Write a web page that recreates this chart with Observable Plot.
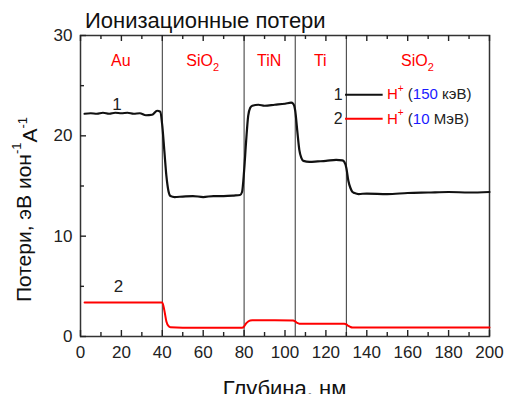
<!DOCTYPE html>
<html><head><meta charset="utf-8">
<script src="https://cdn.jsdelivr.net/npm/d3@7"></script>
<script src="https://cdn.jsdelivr.net/npm/@observablehq/plot@0.6"></script>
<style>
body{margin:0;background:#fff;font-family:"Liberation Sans",Arial,sans-serif;overflow:hidden}
</style>
</head><body><div id="chart"></div>
<script>
// Curve 1: H+ 150 keV
const depth1 = [2,5,8,11,14,17,20,23,26,29,32,35,37.5,39,40,41,42,43,44,46,50,55,60,65,70,75,78,79,80,81,82,83,84,87,90,95,100,103,104,105,106,107,108,109,112,116,120,125,128,129,130,131,132,133,134,136,140,150,160,170,180,190,200];
const loss1  = [22.2,22.25,22.2,22.3,22.2,22.3,22.25,22.3,22.2,22.25,22.05,22.1,22.5,22.4,21.0,18.5,16.0,14.5,14.0,13.9,13.95,14.0,13.9,14.0,14.0,14.05,14.1,14.4,16.5,19.5,22.0,22.8,23.0,23.1,23.0,23.1,23.2,23.3,23.2,22.5,20.5,18.6,17.8,17.5,17.4,17.45,17.5,17.6,17.55,17.4,16.8,15.5,14.8,14.4,14.3,14.2,14.25,14.2,14.3,14.35,14.4,14.35,14.4];
// Curve 2: H+ 10 MeV
const depth2 = [2,20,38,40,41,42,43,44,50,60,70,79,80,81,82,83,84,95,104,105,106,107,108,129,130,131,132,133,134,150,200];
const loss2  = [3.4,3.4,3.4,3.4,2.6,1.5,1.05,0.92,0.88,0.88,0.88,0.88,1.0,1.3,1.5,1.6,1.62,1.62,1.6,1.5,1.35,1.28,1.27,1.27,1.2,1.05,0.95,0.9,0.9,0.9,0.9];

const boundaries = [40, 80, 105, 130];
const layerNames = ["Au", "SiO", "TiN", "Ti", "SiO"];
const layerSubs  = ["", "2", "", "", "2"];
const layerCenters = [20, 60, 92.5, 117.5, 165];
const layerY = 27.5;

const xTicks = [0,20,40,60,80,100,120,140,160,180,200];
const xMinor = [10,30,50,70,90,110,130,150,170,190];
const yTicks = [0,10,20,30];
const yMinor = [5,15,25];

const curveLabels = [{x: 17.9, y: 23.1, t: "1"}, {x: 18.6, y: 5.0, t: "2"}];

const legendNums = ["1", "2"];
const legendY = [24.1, 21.7];
const legendColors = ["#111111", "#ff0000"];
const legendEnergy = ["150", "10"];
const legendUnit = ["кэВ", "МэВ"];

const title = "Ионизационные потери";
const xLabel = "Глубина, нм";

const series1 = depth1.map((d, i) => ({depth: d, loss: loss1[i]}));
const series2 = depth2.map((d, i) => ({depth: d, loss: loss2[i]}));
const legendRows = legendNums.map((n, i) => ({n, y: legendY[i], c: legendColors[i]}));

const ink = "#222";
const W = 505, H = 394, mL = 80, mR = 16, mT = 35, mB = 58;
const fw = W - mL - mR, fh = H - mT - mB;
const xDom = [0, 200], yDom = [0, 30];
// inward tick lengths in pixels, converted to data units
const maj = 6, mnr = 4;
const uy = (yDom[1] - yDom[0]) / fh, ux = (xDom[1] - xDom[0]) / fw;
const tickStyle = {stroke: "#222", strokeWidth: 1.4};
const rowsX = (vals, base, len) => vals.map(v => ({v, a: base, b: base + len}));
const rowsY = (vals, base, len) => vals.map(v => ({v, a: base, b: base + len}));

const plot = Plot.plot({
  width: W,
  height: H,
  marginLeft: mL,
  marginRight: mR,
  marginTop: mT,
  marginBottom: mB,
  style: {fontFamily: "'Liberation Sans', Arial, sans-serif", color: ink, background: "#fff"},
  x: {domain: xDom},
  y: {domain: yDom},
  marks: [
    Plot.ruleX(boundaries, {stroke: "#333", strokeWidth: 1}),
    Plot.axisX({anchor: "bottom", ticks: xTicks, tickSize: 0, tickPadding: 9, fontSize: 17, label: null}),
    Plot.axisY({anchor: "left", ticks: yTicks, tickSize: 0, tickPadding: 8, fontSize: 17, label: null}),
    Plot.frame({stroke: "#333", strokeWidth: 1.5}),
    // inward ticks: bottom, top, left
    Plot.ruleX(rowsX(xTicks, yDom[0], maj * uy), {x: "v", y1: "a", y2: "b", ...tickStyle}),
    Plot.ruleX(rowsX(xMinor, yDom[0], mnr * uy), {x: "v", y1: "a", y2: "b", ...tickStyle}),
    Plot.ruleX(rowsX(xTicks, yDom[1], -maj * uy), {x: "v", y1: "a", y2: "b", ...tickStyle}),
    Plot.ruleX(rowsX(xMinor, yDom[1], -mnr * uy), {x: "v", y1: "a", y2: "b", ...tickStyle}),
    Plot.ruleY(rowsY(yTicks, xDom[0], maj * ux), {y: "v", x1: "a", x2: "b", ...tickStyle}),
    Plot.ruleY(rowsY(yMinor, xDom[0], mnr * ux), {y: "v", x1: "a", x2: "b", ...tickStyle}),
    // curves
    Plot.line(series2, {x: "depth", y: "loss", stroke: "#ff0000", strokeWidth: 2, curve: "monotone-x"}),
    Plot.line(series1, {x: "depth", y: "loss", stroke: "#111", strokeWidth: 2.2, curve: "monotone-x"}),
    Plot.text(curveLabels, {x: "x", y: "y", text: "t", fontSize: 17, fill: ink}),
    // legend lines and numbers
    Plot.ruleY(legendRows, {y: "y", x1: 129.6, x2: 148, stroke: "c", strokeWidth: 2}),
    Plot.text(legendRows, {x: 128.2, y: "y", text: "n", textAnchor: "end", fontSize: 16, fill: ink})
  ]
});

document.getElementById("chart").appendChild(plot);

const svg = d3.select(plot);
const sx = plot.scale("x"), sy = plot.scale("y");
const X = v => sx.apply(v), Y = v => sy.apply(v);

// layer names with subscripts
layerNames.forEach((name, i) => {
  const t = svg.append("text")
    .attr("x", X(layerCenters[i])).attr("y", Y(layerY)).attr("dy", "0.35em")
    .attr("text-anchor", "middle").attr("font-size", 16).attr("fill", "#ff0000");
  t.append("tspan").text(name);
  if (layerSubs[i]) t.append("tspan").attr("font-size", 11).attr("dy", "0.45em").text(layerSubs[i]);
});

// legend texts
legendRows.forEach((r, i) => {
  const t = svg.append("text")
    .attr("x", X(150.1)).attr("y", Y(r.y)).attr("dy", "0.35em")
    .attr("text-anchor", "start")
    .attr("font-size", 15).attr("fill", ink);
  t.append("tspan").attr("fill", "#ff0000").text("H");
  t.append("tspan").attr("fill", "#ff0000").attr("font-size", 10).attr("dy", "-0.75em").text("+");
  t.append("tspan").attr("dy", "0.5em").text(" (");
  t.append("tspan").attr("fill", "#1a1aff").text(legendEnergy[i]);
  t.append("tspan").text(" " + legendUnit[i] + ")");
});

// title
svg.append("text").attr("x", 85).attr("y", 28).attr("text-anchor", "start")
  .attr("font-size", 22).attr("fill", "#111").text(title);

// x label (cut by the bottom edge, as in the reference)
svg.append("text").attr("x", (X(0) + X(200)) / 2).attr("y", 396).attr("text-anchor", "middle")
  .attr("font-size", 22).attr("fill", "#111").text(xLabel);

// y label with superscripts
const cy = (Y(0) + Y(30)) / 2 + 24;
const yl = svg.append("text").attr("transform", `translate(31,${cy}) rotate(-90)`)
  .attr("text-anchor", "middle").attr("font-size", 21).attr("fill", "#111");
yl.append("tspan").text("Потери, эВ ион");
yl.append("tspan").attr("font-size", 13).attr("dy", "-0.8em").text("-1");
yl.append("tspan").attr("dy", "0.8em").text("A");
yl.append("tspan").attr("font-size", 13).attr("dy", "-0.8em").text("-1");
svg.attr("overflow", "visible");
</script>
</body></html>
